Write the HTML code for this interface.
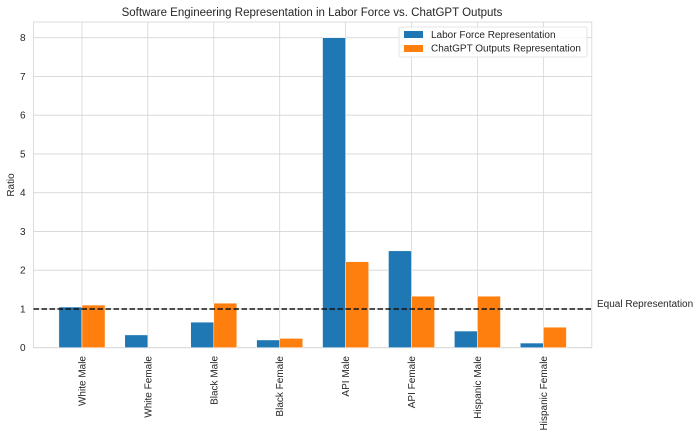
<!DOCTYPE html>
<html><head><meta charset="utf-8"><style>
body{margin:0;background:#fff;font-family:"Liberation Sans",sans-serif}
svg text{font-family:"Liberation Sans",sans-serif;fill:#262626}
</style></head><body>
<svg id="chart" width="700" height="436"></svg>
<script>
const categories=["White Male","White Female","Black Male","Black Female","API Male","API Female","Hispanic Male","Hispanic Female"];
const laborValues=[1.05,0.33,0.66,0.2,8.0,2.5,0.43,0.12];
const chatgptValues=[1.1,0.0,1.15,0.24,2.22,1.33,1.33,0.53];
const yTicks=[0,1,2,3,4,5,6,7,8];
const equalLine=1;
const NS="http://www.w3.org/2000/svg";
const svg=document.getElementById('chart');
const L=33.5,R=591.8,T=22,B=347.7;
const xMin=-0.735,xMax=7.735,yMin=0,yMax=(B-T)/38.75;
const xs=v=>L+(v-xMin)/(xMax-xMin)*(R-L);
const ys=v=>B-(v-yMin)/(yMax-yMin)*(B-T);
function mk(tag,attrs,parent){const e=document.createElementNS(NS,tag);for(const k in attrs)e.setAttribute(k,attrs[k]);(parent||svg).appendChild(e);return e;}
const t=mk('text',{x:312,y:16,'text-anchor':'middle','font-size':11.5});t.textContent="Software Engineering Representation in Labor Force vs. ChatGPT Outputs";


yTicks.forEach(v=>{
 const g=mk('line',{x1:L,x2:R,y1:ys(v),y2:ys(v),stroke:'#d5d5d5','stroke-width':0.8});
 
 
 const tx=mk('text',{x:L-8,y:ys(v)+3.5,'text-anchor':'end','font-size':10});tx.textContent=v;
 
 
});
categories.forEach((c,i)=>{
 const g=mk('line',{x1:xs(i),x2:xs(i),y1:T,y2:B,stroke:'#d5d5d5','stroke-width':0.8});
 
 
});
const frame=mk('rect',{x:L,y:T,width:R-L,height:B-T,fill:'none',stroke:'#d5d5d5','stroke-width':0.8});


const w=0.35;
categories.forEach((c,i)=>{
 const x0=xs(i-w),x1=xs(i),x2=xs(i+w);
 const b=mk('rect',{x:x0,y:ys(laborValues[i]),width:x1-x0,height:ys(0)-ys(laborValues[i]),fill:'#1f77b4',stroke:'#fff','stroke-width':0.5});
 
 
 const o=mk('rect',{x:x1,y:ys(chatgptValues[i]),width:x2-x1,height:ys(0)-ys(chatgptValues[i]),fill:'#ff7f0e',stroke:'#fff','stroke-width':0.5});
 
 
 const tx=mk('text',{transform:`translate(${xs(i)+3.5},356) rotate(-90)`,'text-anchor':'end','font-size':10});tx.textContent=c;
 
 
});
const dl=mk('line',{x1:L,x2:R,y1:ys(equalLine),y2:ys(equalLine),stroke:'#111','stroke-width':1.5,'stroke-dasharray':'5.5,2.5'});


const el=mk('text',{x:597,y:ys(equalLine)-2,'font-size':10});el.textContent="Equal Representation";


const yl=mk('text',{transform:'translate(14,185) rotate(-90)','text-anchor':'middle','font-size':10});yl.textContent="Ratio";


const lg=mk('g',{});


mk('rect',{x:399,y:27,width:188,height:30,fill:'#fff','fill-opacity':0.85,stroke:'#ddd','stroke-width':0.8,rx:2},lg);
mk('rect',{x:404,y:31,width:19,height:7,fill:'#1f77b4'},lg);
mk('rect',{x:404,y:45,width:19,height:7,fill:'#ff7f0e'},lg);
const l1=mk('text',{x:431,y:38,'font-size':10},lg);l1.textContent="Labor Force Representation";


const l2=mk('text',{x:431,y:51.5,'font-size':10},lg);l2.textContent="ChatGPT Outputs Representation";


</script>
</body></html>
